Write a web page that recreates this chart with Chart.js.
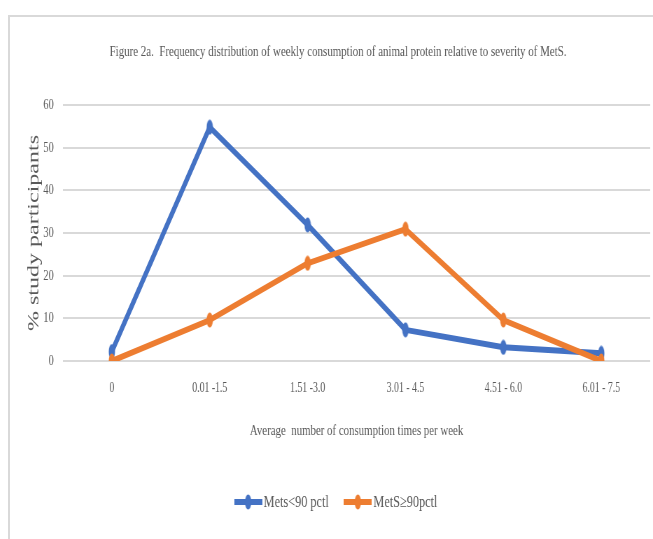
<!DOCTYPE html>
<html>
<head>
<meta charset="utf-8">
<script src="https://cdn.jsdelivr.net/npm/chart.js@4.4.1/dist/chart.umd.min.js"></script>
<style>
  html, body { margin: 0; padding: 0; background: #fff; overflow: hidden; width: 653px; height: 539px; }
  #frame { position: absolute; left: 8px; top: 15px; width: 720px; height: 600px;
           border-top: 2px solid #d9d9d9; border-left: 2px solid #d9d9d9; }
  /* the chart is laid out wide and then narrowed horizontally */
  #wrap { position: absolute; left: 9px; top: 0; width: 940px; height: 539px;
          transform: scaleX(0.7); transform-origin: 0 0; }
  canvas { display: block; }
</style>
</head>
<body>
<div id="frame"></div>
<div id="wrap"><canvas id="c" width="940" height="539"></canvas></div>
<script>
// Consumption bands (x axis)
const categories = ['0', '0.01 -1.5', '1.51 -3.0', '3.01 - 4.5', '4.51 - 6.0', '6.01 - 7.5'];
// % of study participants in each band
const metsBelow90 = [2.2, 54.8, 31.9, 7.3, 3.2, 1.8];
const metsAbove90 = [0, 9.6, 22.9, 30.9, 9.6, 0];
// y axis ticks
const yTicks = [0, 10, 20, 30, 40, 50, 60];

const BLUE = '#4472C4';
const ORANGE = '#ED7D31';
const TEXT = '#595959';
const SERIF = '"Liberation Serif", "Times New Roman", serif';

function markerImage(color) {
  const c = document.createElement('canvas');
  c.width = 10; c.height = 16;
  const g = c.getContext('2d');
  g.fillStyle = color;
  g.beginPath();
  g.ellipse(5, 8, 4.5, 7.5, 0, 0, Math.PI * 2);
  g.fill();
  return c;
}

function legendImage(color) {
  const c = document.createElement('canvas');
  c.width = 40; c.height = 16;
  const g = c.getContext('2d');
  g.strokeStyle = color;
  g.lineWidth = 6;
  g.beginPath();
  g.moveTo(0, 8); g.lineTo(40, 8);
  g.stroke();
  g.fillStyle = color;
  g.beginPath();
  g.ellipse(20, 8, 4.5, 7.5, 0, 0, Math.PI * 2);
  g.fill();
  return c;
}

const blueMarker = markerImage(BLUE);
const orangeMarker = markerImage(ORANGE);
const blueLegend = legendImage(BLUE);
const orangeLegend = legendImage(ORANGE);

new Chart(document.getElementById('c'), {
  type: 'line',
  data: {
    labels: categories,
    datasets: [
      {
        label: 'Mets<90 pctl',
        data: metsBelow90,
        borderColor: BLUE,
        backgroundColor: BLUE,
        borderWidth: 6,
        tension: 0,
        order: 1,
        pointStyle: blueMarker,
        legendImg: blueLegend
      },
      {
        label: 'MetS\u226590pctl',
        data: metsAbove90,
        borderColor: ORANGE,
        backgroundColor: ORANGE,
        borderWidth: 6,
        tension: 0,
        order: 0,
        pointStyle: orangeMarker,
        legendImg: orangeLegend
      }
    ]
  },
  options: {
    responsive: false,
    animation: false,
    devicePixelRatio: 1,
    layout: { padding: { left: 24, right: 24, top: 0, bottom: 18.25 } },
    plugins: {
      title: {
        display: true,
        text: 'Figure 2a.  Frequency distribution of weekly consumption of animal protein relative to severity of MetS.',
        color: TEXT,
        font: { family: SERIF, size: 15.6, weight: 'normal', lineHeight: 1.2 },
        padding: { top: 42.6, bottom: 43.7 }
      },
      legend: {
        position: 'bottom',
        labels: {
          color: TEXT,
          font: { family: SERIF, size: 17.5 },
          usePointStyle: true,
          pointStyleWidth: 27,
          padding: 28,
          generateLabels(chart) {
            return chart.data.datasets.map((ds, i) => ({
              text: ds.label,
              fillStyle: ds.borderColor,
              strokeStyle: ds.borderColor,
              fontColor: TEXT,
              pointStyle: ds.legendImg,
              lineWidth: 0,
              hidden: false,
              datasetIndex: i
            }));
          }
        }
      },
      tooltip: { enabled: false }
    },
    scales: {
      x: {
        offset: true,
        grid: { display: false, drawTicks: false },
        border: { display: false },
        ticks: {
          color: TEXT,
          font: { family: SERIF, size: 14 },
          padding: 18.5,
          maxRotation: 0,
          autoSkip: false
        },
        title: {
          display: true,
          text: 'Average  number of consumption times per week',
          color: TEXT,
          font: { family: SERIF, size: 15.5 },
          padding: { top: 24.95, bottom: 24.95 }
        },
        afterFit(scale) { scale.height = 104.25; }
      },
      y: {
        min: 0,
        max: 60,
        grid: { color: '#d9d9d9', lineWidth: 2, drawTicks: false },
        border: { display: false },
        afterBuildTicks(scale) { scale.ticks = yTicks.map(v => ({ value: v })); },
        ticks: {
          color: TEXT,
          font: { family: SERIF, size: 15 },
          padding: 13
        },
        title: {
          display: true,
          text: '% study participants',
          color: TEXT,
          font: { family: SERIF, size: 24, lineHeight: 1 },
          padding: { top: 0, bottom: 0 }
        },
        afterFit(scale) { scale.width = 53; }
      }
    },
    elements: {
      point: { radius: 6, hoverRadius: 6 },
      line: { borderCapStyle: 'round', borderJoinStyle: 'round' }
    }
  }
});
</script>
</body>
</html>
